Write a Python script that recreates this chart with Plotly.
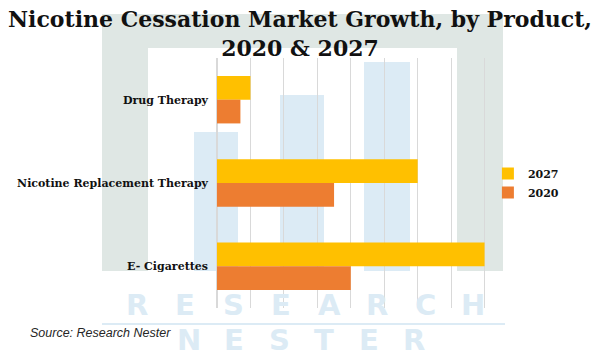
import plotly.graph_objects as go

categories = ["Drug Therapy", "Nicotine Replacement Therapy", "E- Cigarettes"]
values_2027 = [1.0, 6.0, 8.0]
values_2020 = [0.7, 3.5, 4.0]
series_names = ["2027", "2020"]
title_text = "Nicotine Cessation Market Growth, by Product,<br>2020 & 2027"
source_text = "Source: Research Nester"
watermark_top = "RESEARCH"
watermark_bottom = "NESTER"

COL_2027 = "#FFC000"
COL_2020 = "#ED7D31"
SERIF = "DejaVu Serif"
GRID = "#d9d9d9"
WM_BLUE = "#dcebf5"
WM_GREEN = "#dfe7e4"

fig = go.Figure()
fig.add_trace(go.Bar(y=categories, x=values_2027, name=series_names[0], orientation="h",
                     marker=dict(color=COL_2027, line=dict(width=0))))
fig.add_trace(go.Bar(y=categories, x=values_2020, name=series_names[1], orientation="h",
                     marker=dict(color=COL_2020, line=dict(width=0))))

W, H = 600, 356
L, R, T, B = 217, 82, 58, 48
PW, PH = W - L - R, H - T - B


def fx(x):
    return (x - L) / PW


def fy(y):
    return (H - B - y) / PH


shapes = []
# simplified logo watermark (decoration only)
for (x0, x1, y0, y1, c) in [
    (102, 148, 14, 271, WM_GREEN),
    (457, 503, 14, 271, WM_GREEN),
    (148, 457, 14, 48, WM_GREEN),
    (194, 238, 132, 271, WM_BLUE),
    (280, 324, 95, 271, WM_BLUE),
    (364, 410, 62, 271, WM_BLUE),
    (102, 505, 323, 325, WM_BLUE),
]:
    shapes.append(dict(type="rect", xref="paper", yref="paper",
                       x0=fx(x0), x1=fx(x1), y0=fy(y1), y1=fy(y0),
                       fillcolor=c, line=dict(width=0), layer="below"))

annotations = []
wm_font = dict(family="DejaVu Sans", size=29, color=WM_BLUE, weight="bold")
for i, ch in enumerate(watermark_top):
    annotations.append(dict(text=ch, x=fx(137 + 48 * i), y=fy(305),
                            xref="paper", yref="paper", showarrow=False, font=wm_font,
                            xanchor="center", yanchor="middle"))
for i, ch in enumerate(watermark_bottom):
    annotations.append(dict(text=ch, x=fx(189 + 45 * i), y=fy(340),
                            xref="paper", yref="paper", showarrow=False, font=wm_font,
                            xanchor="center", yanchor="middle"))
annotations.append(dict(text=source_text, x=fx(28), y=fy(333),
                        xref="paper", yref="paper", showarrow=False,
                        font=dict(family="Liberation Sans", size=12.5, color="#262626", style="italic"),
                        xanchor="left", yanchor="middle"))

fig.update_layout(
    width=W, height=H,
    margin=dict(l=L, r=R, t=T, b=B),
    paper_bgcolor="white", plot_bgcolor="rgba(0,0,0,0)",
    barmode="group", bargap=0.43, bargroupgap=0,
    title=dict(text=title_text, x=0.5, xanchor="center", xref="container",
               y=1 - 27 / H, yref="container", yanchor="top",
               font=dict(family=SERIF, size=22, color="#111111", weight="bold")),
    showlegend=True,
    legend=dict(x=0.90, xanchor="left", y=0.5, yanchor="middle", bgcolor="rgba(0,0,0,0)",
                font=dict(family=SERIF, size=11, color="#111111", weight="bold"),
                traceorder="normal", itemwidth=30),
    shapes=shapes,
    annotations=annotations,
    xaxis=dict(range=[0, 9], dtick=1, showgrid=True, gridcolor=GRID, gridwidth=1,
               showticklabels=False, zeroline=True, zerolinecolor=GRID, showline=False, ticks=""),
    yaxis=dict(autorange="reversed", showgrid=False, showline=False, ticks="", automargin=False,
               tickfont=dict(family=SERIF, size=11, color="#111111", weight="bold"),
               ticklabelstandoff=8),
)

fig.write_html("out.html", config={"displayModeBar": False},
               post_script="document.body.style.margin='0px';")
